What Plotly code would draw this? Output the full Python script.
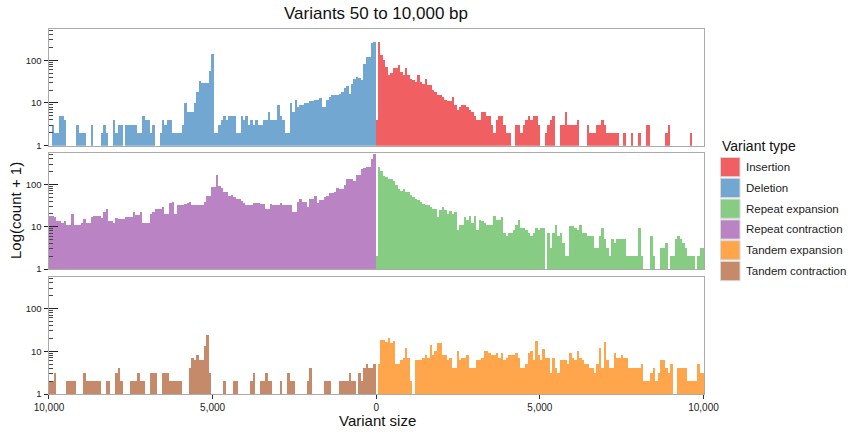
import numpy as np
import plotly.graph_objects as go

# ---------------- data (counts per 75 bp bin) ----------------
BIN = 75
left_centers = np.arange(-133, 0) * BIN    # -9975 ... -75 (contractions / deletions)
right_centers = np.arange(0, 134) * BIN    # 0 ... 9975 (expansions / insertions)

deletion = [0,2,1,1,4,4,3,0,0,0, 0,2,1,1,1,0,0,2,0,0, 0,1,2,1,0,0,3,1,2,2,
            0,2,2,2,2,2,1,1,4,3, 3,1,2,0,0,1,3,2,3,3, 1,1,1,1,2,9,5,5,5,9,
            17,32,29,29,29,56,139,1,1,2, 3,4,3,4,4,4,1,1,4,3, 4,2,3,2,3,2,2,3,3,5,
            3,3,3,8,4,3,1,1,9,5, 11,7,8,8,9,9,10,10,11,11, 12,7,7,11,13,14,14,14,15,17,
            21,24,15,27,35,39,37,33,79,119, 119,249,269]

insertion = [3,268,130,99,69,44,48,65,65,78, 52,44,65,44,36,33,30,44,30,27,
             36,25,25,19,17,14,14,13,11,10, 10,13,8,6,7,8,8,7,6,5,
             4,3,3,5,5,4,4,2,1,3, 4,4,2,1,1,0,0,2,2,1,
             2,3,4,3,4,4,2,0,0,1, 2,3,4,0,0,2,2,5,2,2,
             2,2,3,0,0,0,2,1,1,1, 2,2,3,2,1,1,1,1,1,0,
             0,1,0,0,1,0,0,1,0,0, 2,2,0,0,0,0,0,0,1,2,
             0,0,0,0,0,0,0,0,1,0, 0,0,0,0]

repeat_contraction = [17,17,16,12,12,11,12,10,10,19, 10,10,10,11,14,11,11,16,17,17,
                      17,15,21,24,12,12,11,15,14,14, 14,16,16,16,21,18,18,21,11,11,
                      11,19,21,24,24,25,27,19,19,35, 36,19,30,31,31,32,35,36,30,30,
                      30,30,30,36,52,52,86,86,162,89, 79,63,63,51,54,48,44,44,39,35,
                      30,30,30,35,35,35,33,33,25,25, 33,31,31,30,35,30,30,30,31,21,
                      21,36,44,37,37,27,44,44,52,35, 40,40,48,52,61,61,65,79,75,75,
                      91,129,129,129,119,165,165,224,232,244, 244,389,499]

repeat_expansion = [1,244,205,157,143,130,130,119,91,76, 69,76,63,63,53,48,44,40,36,33,
                    30,30,27,24,24,16,23,27,23,19, 22,19,21,7,10,10,16,13,17,11,
                    17,7,13,12,11,10,10,10,17,13, 13,16,6,5,6,6,7,10,13,8,
                    8,7,6,5,6,8,7,8,8,0, 6,2,6,10,5,6,3,1,1,9,
                    9,8,7,10,6,6,5,5,5,2, 2,5,8,4,2,1,4,3,4,4,
                    4,4,1,1,1,1,1,8,1,0, 0,0,5,1,0,0,2,2,3,0,
                    1,1,4,5,4,3,2,1,1,1, 0,1,2,2]

tandem_contraction = [1,1,2,0,0,0,0,1,1,1, 1,0,0,0,2,1,1,1,1,1, 1,0,0,1,1,0,0,2,3,1,
                      0,0,0,1,1,1,2,1,1,0, 0,2,2,2,0,0,2,2,2,1, 1,1,1,1,0,0,0,3,6,5,
                      7,5,5,12,23,2,0,0,0,0, 0,1,0,0,0,1,1,0,0,0, 0,0,1,2,0,0,1,1,2,1,
                      1,0,0,0,1,0,0,2,1,1, 0,0,0,0,0,1,3,0,0,0, 0,0,1,1,1,0,0,0,1,1,
                      1,1,2,1,1,0,2,1,3,4, 3,3,4]

tandem_expansion = [0,4,17,17,15,19,14,16,4,4, 5,6,11,6,1,0,5,5,5,6,
                    7,6,13,7,9,14,14,7,7,5, 6,3,3,9,5,6,6,7,3,3,
                    3,5,5,6,9,9,8,7,7,8, 6,8,5,6,7,7,7,8,6,3,
                    3,4,8,9,5,16,7,5,10,6, 6,2,6,3,2,5,5,5,4,8,
                    6,5,9,6,5,4,4,3,3,2, 4,11,3,15,5,3,3,8,6,6,
                    7,6,6,3,3,3,3,3,4,1, 1,1,2,3,1,2,5,5,3,2,
                    4,0,0,3,3,3,3,1,1,1, 1,4,2,2]

x_tickvals = [-10000, -5000, 0, 5000, 10000]
x_ticktext = ["10,000", "5,000", "0", "5,000", "10,000"]
y_tickvals = [1, 10, 100]
y_ticktext = ["1", "10", "100"]
y_minor = [2, 3, 4, 5, 6, 7, 8, 9, 20, 30, 40, 50, 60, 70, 80, 90, 200, 300, 400, 500]

legend_order = ["Insertion", "Deletion", "Repeat expansion", "Repeat contraction",
                "Tandem expansion", "Tandem contraction"]
COLORS = {
    "Insertion": "rgb(240,96,98)",
    "Deletion": "rgb(114,167,210)",
    "Repeat expansion": "rgb(134,204,131)",
    "Repeat contraction": "rgb(186,131,196)",
    "Tandem expansion": "rgb(255,166,76)",
    "Tandem contraction": "rgb(197,138,105)",
}

# (panel row, name, centers, counts)
series = [
    (1, "Insertion", right_centers, insertion),
    (1, "Deletion", left_centers, deletion),
    (2, "Repeat expansion", right_centers, repeat_expansion),
    (2, "Repeat contraction", left_centers, repeat_contraction),
    (3, "Tandem expansion", right_centers, tandem_expansion),
    (3, "Tandem contraction", left_centers, tandem_contraction),
]

W, H = 868, 434
FONT = "Liberation Sans, Arial, Helvetica, sans-serif"
x0_px, x1_px = 48.5, 704.0
panels_px = [(29.0, 145.7), (153.3, 269.0), (277.3, 394.0)]

fig = go.Figure()
for row, name, centers, counts in series:
    sfx = "" if row == 1 else str(row)
    fig.add_trace(go.Bar(
        x=centers, y=counts, base=1, width=BIN,
        name=name, showlegend=False,
        marker=dict(color=COLORS[name], line=dict(width=0)),
        xaxis="x" + sfx, yaxis="y" + sfx,
        hovertemplate="%{x}: %{y}<extra>" + name + "</extra>",
    ))

layout = dict(
    width=W, height=H,
    margin=dict(l=0, r=0, t=0, b=0, autoexpand=False),
    paper_bgcolor="white", plot_bgcolor="white",
    barmode="overlay", bargap=0,
    font=dict(family=FONT, color="#222222"),
    showlegend=False,
)

xdom = [x0_px / W, x1_px / W]
for i, (top, bot) in enumerate(panels_px):
    r = i + 1
    sfx = "" if r == 1 else str(r)
    ydom = [1 - bot / H, 1 - top / H]
    layout["xaxis" + sfx] = dict(
        domain=xdom, anchor="y" + sfx, range=[-10015, 10015],
        showgrid=False, zeroline=False, automargin=False,
        showline=True, linecolor="#AAAAAA", linewidth=1, mirror=True,
        tickvals=x_tickvals, ticktext=x_ticktext,
        ticks="outside" if r == 3 else "", ticklen=4, tickcolor="#333333",
        showticklabels=(r == 3), tickfont=dict(size=10, color="#222222"),
    )
    layout["yaxis" + sfx] = dict(
        domain=ydom, anchor="x" + sfx, type="log", range=[0, 2.73],
        showgrid=False, zeroline=False, automargin=False,
        showline=True, linecolor="#AAAAAA", linewidth=1, mirror=True,
        tickvals=y_tickvals, ticktext=y_ticktext,
        ticks="outside", ticklen=4, tickwidth=1.2, tickcolor="#222222",
        tickfont=dict(size=9.5, color="#222222"),
    )
    # overlay axis: ticks drawn inside the panel (major + minor log ticks)
    layout["yaxis" + str(r + 3)] = dict(
        domain=ydom, anchor="x" + sfx, overlaying="y" + sfx,
        type="log", range=[0, 2.73], automargin=False,
        showgrid=False, zeroline=False, showline=False,
        tickvals=y_tickvals, ticks="inside", ticklen=9, tickwidth=1.2,
        tickcolor="#222222", showticklabels=False,
        minor=dict(tickvals=y_minor, ticks="inside", ticklen=4,
                   tickwidth=0.8, tickcolor="#444444"),
    )

annotations = [
    dict(text="Variants 50 to 10,000 bp", x=376 / W, y=1 - 14 / H,
         xref="paper", yref="paper", showarrow=False,
         xanchor="center", yanchor="middle",
         font=dict(size=17, color="#111111")),
    dict(text="Log(count + 1)", x=16 / W, y=1 - 211 / H,
         xref="paper", yref="paper", showarrow=False, textangle=-90,
         xanchor="center", yanchor="middle",
         font=dict(size=15, color="#111111")),
    dict(text="Variant size", x=377 / W, y=1 - 420 / H,
         xref="paper", yref="paper", showarrow=False,
         xanchor="center", yanchor="middle",
         font=dict(size=15, color="#111111")),
    dict(text="Variant type", x=720 / W, y=1 - 146 / H,
         xref="paper", yref="paper", showarrow=False,
         xanchor="left", yanchor="middle",
         font=dict(size=14, color="#111111")),
]

# legend (keys + labels)
shapes = []
key_x0, key_x1 = 720.5, 740.0
key_top0, key_pitch, key_h = 157.5, 20.8, 19.2
for j, name in enumerate(legend_order):
    t = key_top0 + j * key_pitch
    shapes.append(dict(type="rect", xref="paper", yref="paper",
                       x0=key_x0 / W, x1=key_x1 / W,
                       y0=1 - (t + key_h) / H, y1=1 - t / H,
                       fillcolor=COLORS[name],
                       line=dict(color="#D8D8D8", width=1)))
    annotations.append(dict(text=name, x=743.5 / W, y=1 - (t + key_h / 2) / H,
                            xref="paper", yref="paper", showarrow=False,
                            xanchor="left", yanchor="middle",
                            font=dict(size=11.5, color="#222222")))

layout["annotations"] = annotations
layout["shapes"] = shapes
fig.update_layout(**layout)

# dummy traces so overlay tick axes are rendered
for r in (1, 2, 3):
    sfx = "" if r == 1 else str(r)
    fig.add_trace(go.Scatter(x=[None], y=[None], xaxis="x" + sfx,
                             yaxis="y" + str(r + 3), showlegend=False,
                             hoverinfo="skip"))

fig.write_html("out.html")
